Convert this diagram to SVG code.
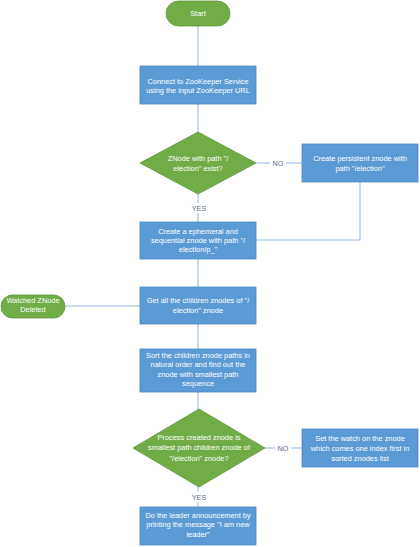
<svg xmlns="http://www.w3.org/2000/svg" width="420" height="547" viewBox="0 0 420 547">
<style>
.box{fill:#5B9BD5;stroke:#4A86C0;stroke-width:0.8}
.term{fill:#70AD47;stroke:#5E9438;stroke-width:0.8}
.t{font-family:"Liberation Sans",Arial,sans-serif;font-size:7.4px;fill:#ffffff;text-anchor:middle}
.lbl{font-family:"Liberation Sans",Arial,sans-serif;font-size:7.2px;fill:#5A6A85;text-anchor:middle}
.c{fill:none;stroke:#8DB6E2;stroke-width:1}
</style>
<rect width="420" height="547" fill="#ffffff"/>
<g id="connectors">
<path class="c" d="M198,26 V66"/>
<path class="c" d="M198,104 V132"/>
<path class="c" d="M256,163 H302"/>
<path class="c" d="M360,182 V240 H256"/>
<path class="c" d="M198,194 V222"/>
<path class="c" d="M198,259 V287"/>
<path class="c" d="M65,306 H140"/>
<path class="c" d="M198,324 V349"/>
<path class="c" d="M198,392 V409"/>
<path class="c" d="M265,448 H302"/>
<path class="c" d="M198,487 V507"/>
<rect x="270" y="158" width="16" height="10" fill="#ffffff"/>
<text class="lbl" x="278" y="165.5">NO</text>
<rect x="189" y="203" width="20" height="10" fill="#ffffff"/>
<text class="lbl" x="199" y="210.5">YES</text>
<rect x="275" y="443" width="16" height="10" fill="#ffffff"/>
<text class="lbl" x="283" y="450.5">NO</text>
<rect x="189" y="492" width="20" height="10" fill="#ffffff"/>
<text class="lbl" x="199" y="499.5">YES</text>
</g>
<g id="start">
<rect class="term" x="166" y="1" width="64" height="25" rx="12.5"/>
<text class="t" x="198" y="16">Start</text>
</g>
<g id="connect">
<rect class="box" x="140" y="66" width="116" height="38"/>
<text class="t" x="198" y="83.5">Connect to ZooKeeper Service</text>
<text class="t" x="198" y="92.5">using the input ZooKeeper URL</text>
</g>
<g id="exists">
<polygon class="term" points="198,132 256,163 198,194 140,163"/>
<text class="t" x="198" y="160.5">ZNode with path "/</text>
<text class="t" x="198" y="170.5">election" exist?</text>
</g>
<g id="persistent">
<rect class="box" x="302" y="144" width="116" height="38"/>
<text class="t" x="360" y="160.5">Create persistent znode with</text>
<text class="t" x="360" y="170.5">path "/election"</text>
</g>
<g id="ephemeral">
<rect class="box" x="140" y="222" width="116" height="37"/>
<text class="t" x="198" y="233.5">Create a ephemeral and</text>
<text class="t" x="198" y="242.5">sequential znode with path "/</text>
<text class="t" x="198" y="251.5">election/p_"</text>
</g>
<g id="watched">
<rect class="term" x="1" y="295" width="64" height="23" rx="11.5"/>
<text class="t" x="33" y="302.5">Watched ZNode</text>
<text class="t" x="33" y="311.5">Deleted</text>
</g>
<g id="children">
<rect class="box" x="140" y="287" width="116" height="37"/>
<text class="t" x="198" y="302.5">Get all the children znodes of "/</text>
<text class="t" x="198" y="312.5">election" znode</text>
</g>
<g id="sort">
<rect class="box" x="140" y="349" width="116" height="43"/>
<text class="t" x="198" y="357.5">Sort the children znode paths in</text>
<text class="t" x="198" y="367">natural order and find out the</text>
<text class="t" x="198" y="376.5">znode with smallest path</text>
<text class="t" x="198" y="386">sequence</text>
</g>
<g id="smallest">
<polygon class="term" points="199,409 265,448 199,487 133,448"/>
<text class="t" x="199" y="439.5">Process created znode is</text>
<text class="t" x="199" y="450">smallest path children znode of</text>
<text class="t" x="199" y="460.5">"/election" znode?</text>
</g>
<g id="watch">
<rect class="box" x="302" y="429" width="116" height="38"/>
<text class="t" x="360" y="440.5">Set the watch on the znode</text>
<text class="t" x="360" y="450.5">which comes one index first in</text>
<text class="t" x="360" y="460.5">sorted znodes list</text>
</g>
<g id="leader">
<rect class="box" x="140" y="507" width="116" height="38"/>
<text class="t" x="198" y="517.5">Do the leader announcement by</text>
<text class="t" x="198" y="526.5">printing the message "I am new</text>
<text class="t" x="198" y="536.5">leader"</text>
</g>
</svg>
